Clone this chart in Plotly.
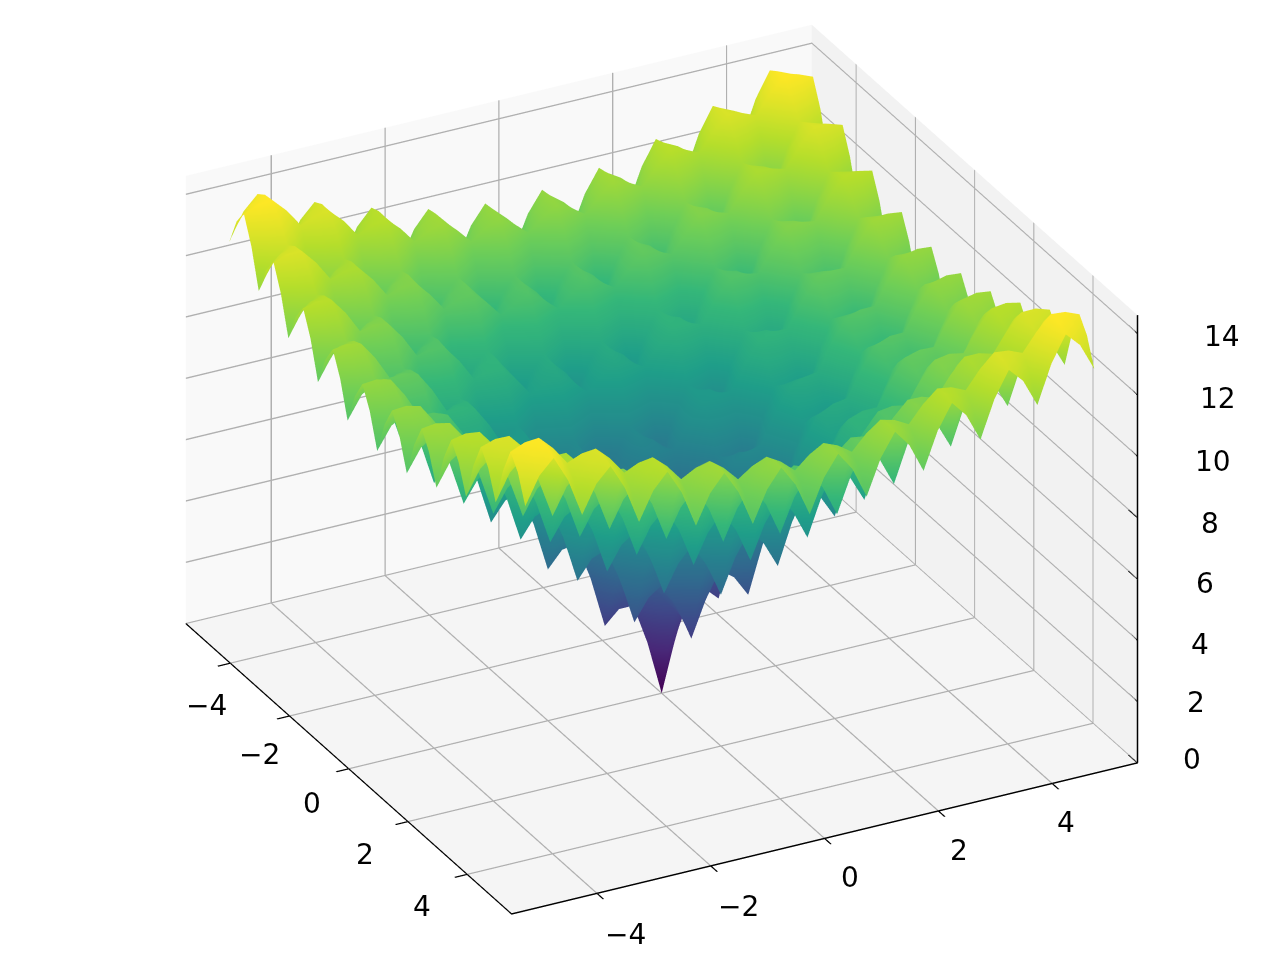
import plotly.graph_objects as go

x_values = [i * 0.25 for i in range(-20, 21)]
y_values = [i * 0.25 for i in range(-20, 21)]
x_ticks = [-4, -2, 0, 2, 4]
y_ticks = [-4, -2, 0, 2, 4]
z_ticks = [0, 2, 4, 6, 8, 10, 12, 14]
x_label_px = [(198, 697), (251, 746), (304, 795), (357, 846), (414, 898)]
y_label_px = [(617, 926), (730, 898), (842, 869), (951, 842), (1058, 814)]
z_label_px = [(1184, 751), (1188, 694), (1192, 636), (1197, 575), (1202, 515), (1205, 453), (1210, 391), (1214, 328)]
x_edge = 5.5
y_edge = 5.5
z_top = 14.6

# Surface heights read for one quadrant (|x|, |y| = 0, 0.25, ... 5); the picture is symmetric.
quadrant = [
[0,1.76,3.08,3.08,2.64,4.31,5.54,5.46,4.93,6.52,7.68,7.51,6.91,8.44,9.53,9.30,8.64,10.10,11.14,10.85,10.14],
[1.76,2.69,3.63,3.83,3.78,5.02,5.98,6.14,6.03,7.20,8.09,8.19,8.00,9.11,9.93,9.97,9.72,10.77,11.54,11.51,11.22],
[3.08,3.63,4.25,4.50,4.64,5.57,6.36,6.65,6.78,7.67,8.40,8.64,8.71,9.55,10.22,10.40,10.41,11.19,11.81,11.93,11.89],
[3.08,3.83,4.50,4.50,4.31,5.44,6.33,6.44,6.28,7.42,8.28,8.35,8.15,9.24,10.05,10.07,9.82,10.85,11.62,11.59,11.28],
[2.64,3.78,4.64,4.31,3.62,5.12,6.22,6.03,5.42,6.95,8.05,7.85,7.21,8.70,9.77,9.52,8.83,10.28,11.30,11.00,10.27],
[4.31,5.02,5.57,5.44,5.12,6.14,6.93,6.96,6.74,7.82,8.64,8.67,8.44,9.50,10.29,10.28,10.01,11.03,11.78,11.73,11.42],
[5.54,5.98,6.36,6.33,6.22,6.93,7.53,7.67,7.68,8.47,9.11,9.27,9.27,10.05,10.68,10.81,10.79,11.54,12.12,12.22,12.16],
[5.46,6.14,6.65,6.44,6.03,6.96,7.67,7.63,7.33,8.35,9.12,9.11,8.83,9.85,10.61,10.58,10.28,11.28,12.00,11.94,11.61],
[4.93,6.03,6.78,6.28,5.42,6.74,7.68,7.33,6.59,8.00,9.00,8.70,7.99,9.41,10.41,10.10,9.37,10.77,11.75,11.42,10.66],
[6.52,7.20,7.67,7.42,6.95,7.82,8.47,8.35,8.00,8.97,9.68,9.62,9.30,10.28,11.00,10.94,10.62,11.59,12.29,12.21,11.86],
[7.68,8.09,8.40,8.28,8.05,8.64,9.11,9.12,9.00,9.68,10.22,10.29,10.20,10.91,11.46,11.54,11.45,12.15,12.69,12.75,12.65],
[7.51,8.19,8.64,8.35,7.85,8.67,9.27,9.11,8.70,9.62,10.29,10.18,9.82,10.77,11.45,11.36,11.00,11.94,12.62,12.52,12.14],
[6.91,8.00,8.71,8.15,7.21,8.44,9.27,8.83,7.99,9.30,10.20,9.82,9.02,10.37,11.30,10.93,10.14,11.48,12.41,12.03,11.23],
[8.44,9.11,9.55,9.24,8.70,9.50,10.05,9.85,9.41,10.28,10.91,10.77,10.37,11.28,11.93,11.80,11.42,12.33,12.99,12.86,12.46],
[9.53,9.93,10.22,10.05,9.77,10.29,10.68,10.61,10.41,11.00,11.46,11.45,11.30,11.93,12.42,12.42,12.29,12.93,13.42,13.43,13.28],
[9.30,9.97,10.40,10.07,9.52,10.28,10.81,10.58,10.10,10.94,11.54,11.36,10.93,11.80,12.42,12.27,11.86,12.75,13.37,13.22,12.81],
[8.64,9.72,10.41,9.82,8.83,10.01,10.79,10.28,9.37,10.62,11.45,11.00,10.14,11.42,12.29,11.86,11.01,12.31,13.18,12.76,11.91],
[10.10,10.77,11.19,10.85,10.28,11.03,11.54,11.28,10.77,11.59,12.15,11.94,11.48,12.33,12.93,12.75,12.31,13.17,13.77,13.60,13.16],
[11.14,11.54,11.81,11.62,11.30,11.78,12.12,12.00,11.75,12.29,12.69,12.62,12.41,12.99,13.42,13.37,13.18,13.77,14.22,14.18,13.99],
[10.85,11.51,11.93,11.59,11.00,11.73,12.22,11.94,11.42,12.21,12.75,12.52,12.03,12.86,13.43,13.22,12.76,13.60,14.18,13.98,13.53],
[10.14,11.22,11.89,11.28,10.27,11.42,12.16,11.61,10.66,11.86,12.65,12.14,11.23,12.46,13.28,12.81,11.91,13.16,13.99,13.53,12.64],
]

z_values = [row[:0:-1] + row for row in quadrant[:0:-1] + quadrant]

fig = go.Figure(go.Surface(
    x=x_values, y=y_values, z=z_values,
    colorscale="Viridis", showscale=False, cmin=0, cmax=14.22,
    lighting=dict(ambient=1, diffuse=0, specular=0, fresnel=0, roughness=1),
    hoverinfo="skip",
))

# z axis on the right-hand vertical edge, as in the reference
zx, zy, zz = [x_edge, x_edge], [y_edge, y_edge], [0, z_top]
for t in z_ticks:
    zx += [None, x_edge - 0.3, x_edge]
    zy += [None, y_edge, y_edge]
    zz += [None, t, t]
fig.add_trace(go.Scatter3d(x=zx, y=zy, z=zz, mode="lines",
                           line=dict(color="black", width=3), hoverinfo="skip", showlegend=False))

def axis(ticks, rng, bg, main=True):
    d = dict(
        title=dict(text=""), range=rng, tickmode="array", tickvals=ticks,
        showgrid=True, gridcolor="#b0b0b0", gridwidth=3,
        showbackground=True, backgroundcolor=bg, zeroline=False,
        showspikes=False, showticklabels=False,
    )
    if main:
        d.update(showline=True, linecolor="black", linewidth=3,
                 ticks="outside", tickcolor="black", ticklen=14, tickwidth=3)
    else:
        d.update(showline=False, ticks="")
    return d

def labels(ticks, positions):
    return [dict(xref="paper", yref="paper", x=px / 1280, y=1 - py / 960,
                 text=str(t).replace("-", "\u2212"),
                 showarrow=False, xanchor="center", yanchor="middle",
                 font=dict(family="DejaVu Sans", size=28, color="black"))
            for t, (px, py) in zip(ticks, positions)]

fig.update_layout(
    width=1280, height=960,
    margin=dict(l=0, r=0, t=0, b=0),
    paper_bgcolor="white",
    showlegend=False,
    annotations=labels(x_ticks, x_label_px) + labels(y_ticks, y_label_px) + labels(z_ticks, z_label_px),
    scene=dict(
        xaxis=axis(x_ticks, [-x_edge, x_edge], "#f9f9f9"),
        yaxis=axis(y_ticks, [-y_edge, y_edge], "#f2f2f2"),
        zaxis=axis(z_ticks, [0, z_top], "#f5f5f5", main=False),
        aspectmode="manual",
        aspectratio=dict(x=1.47, y=1.47, z=1.053),
        camera=dict(
            eye=dict(x=1.5755, y=-0.852, z=0.894),
            center=dict(x=0.0035, y=-0.034, z=-0.034),
            up=dict(x=0, y=0, z=1),
            projection=dict(type="orthographic"),
        ),
    ),
)
fig.write_html("out.html")
